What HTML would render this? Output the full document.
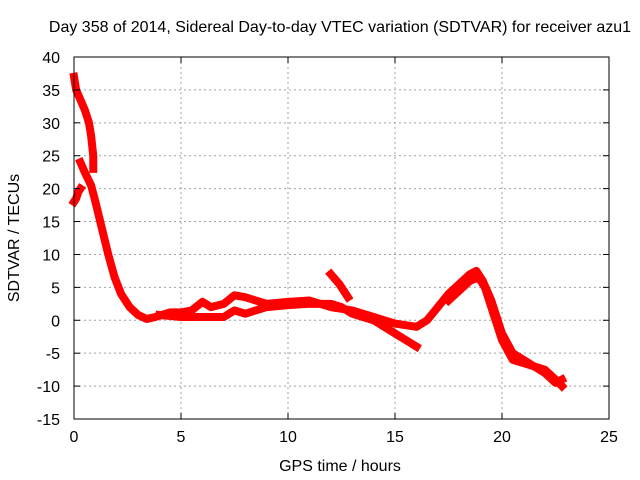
<!DOCTYPE html>
<html><head><meta charset="utf-8"><style>
body{margin:0;background:#fff}
svg{display:block;font-family:"Liberation Sans",sans-serif;font-size:16px}
</style></head><body>
<svg id="chart" width="640" height="480">
<text x="340" y="32" text-anchor="middle">Day 358 of 2014, Sidereal Day-to-day VTEC variation (SDTVAR) for receiver azu1</text>
<text x="340" y="471" text-anchor="middle">GPS time / hours</text>
<text transform="translate(19,238) rotate(-90)" text-anchor="middle">SDTVAR / TECUs</text>
<g id="grid"></g><g id="series"></g><g id="axes"></g>
</svg>
<script>
const xTicks=[0,5,10,15,20,25];
const yTicks=[-15,-10,-5,0,5,10,15,20,25,30,35,40];
const track1=[[0,37],[0.1,35],[0.3,33.5],[0.5,32],[0.7,30],[0.8,28],[0.9,25],[0.9,23]];
const track2=[[0,18],[0.1,18.5],[0.2,19.5],[0.3,20]];
const track3=[[0.3,24],[0.5,22.5],[0.8,20.5],[1,18],[1.3,14],[1.6,10],[1.9,6.5],[2.2,4],[2.6,2],[3,0.8],[3.4,0.2],[3.8,0.5],[4.5,1.2],[5,1.2],[5.5,1.5],[6,2.8],[6.4,2],[7,2.5],[7.5,3.8],[8,3.5],[8.5,3],[9,2.5],[10,2.8],[11,3],[11.5,2.5],[12,2],[13,1.5],[14,0.5],[15,-0.5],[16,-1],[16.5,0],[17,2],[17.5,4],[18,5.5],[18.5,7],[18.8,7.5],[19.1,6],[19.5,3],[20,-2],[20.5,-5],[21,-6],[21.5,-7],[22,-8],[22.5,-9.5],[22.8,-9]];
const track4=[[4,0.8],[5,0.5],[6,0.5],[7,0.5],[7.5,1.5],[8,1],[9,2],[10,2.3],[11,2.5],[12,2.5],[12.5,2],[13,1],[14,0],[14.5,-1],[15,-2],[15.5,-3],[16,-4]];
const track5=[[12,7],[12.4,5.5],[12.8,3.5]];
const track6=[[17.5,3],[18,4.5],[18.5,6],[18.9,6.5],[19.2,5],[19.5,2],[20,-3],[20.5,-6],[21,-6.5],[22,-7.5],[22.5,-9],[22.8,-10]];
const tracks=[track1,track2,track3,track4,track5,track6];
const X0=74,X1=609,Y0=419,Y1=57;
const sx=v=>X0+(v-0)/(25-0)*(X1-X0);
const sy=v=>Y0-(v+15)/(55)*(Y0-Y1);
const NS="http://www.w3.org/2000/svg";
const mk=(t,a,p)=>{const e=document.createElementNS(NS,t);for(const k in a)e.setAttribute(k,a[k]);p.appendChild(e);return e;};
const grid=document.getElementById('grid'),axes=document.getElementById('axes'),ser=document.getElementById('series');
xTicks.forEach(t=>{
 if(t>0&&t<25){const g=mk('line',{x1:sx(t),x2:sx(t),y1:Y1,y2:Y0,stroke:'#a0a0a0','stroke-dasharray':'2,3'},grid);
 
 }
 const l=mk('text',{x:sx(t),y:Y0+23,'text-anchor':'middle'},axes);l.textContent=t;
 
 
 mk('line',{x1:sx(t),x2:sx(t),y1:Y0,y2:Y0-6,stroke:'#000'},axes);
 mk('line',{x1:sx(t),x2:sx(t),y1:Y1,y2:Y1+6,stroke:'#000'},axes);
});
yTicks.forEach(t=>{
 if(t>-15&&t<40){const g=mk('line',{x1:X0,x2:X1,y1:sy(t),y2:sy(t),stroke:'#a0a0a0','stroke-dasharray':'2,3'},grid);
 
 }
 const l=mk('text',{x:X0-14,y:sy(t)+6,'text-anchor':'end'},axes);l.textContent=t;
 
 
 mk('line',{x1:X0,x2:X0+6,y1:sy(t),y2:sy(t),stroke:'#000'},axes);
 mk('line',{x1:X1,x2:X1-6,y1:sy(t),y2:sy(t),stroke:'#000'},axes);
});
const box=mk('rect',{x:X0,y:Y1,width:X1-X0,height:Y0-Y1,fill:'none',stroke:'#000'},axes);


tracks.forEach((tr,i)=>{
 const p=mk('polyline',{points:tr.map(d=>sx(d[0])+','+sy(d[1])).join(' '),fill:'none',stroke:'#f00','stroke-width':8,'stroke-linejoin':'round','stroke-linecap':'square'},ser);
 
 
});
</script>
</body></html>
